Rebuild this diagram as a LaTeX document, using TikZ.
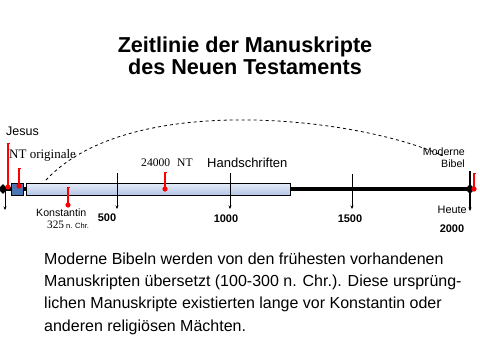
\documentclass[tikz,border=0pt]{standalone}
\usepackage{fontspec}
\setmainfont{Liberation Sans}
\newfontfamily\timesfont{Liberation Serif}
\usetikzlibrary{arrows.meta,shapes.geometric}
\definecolor{pinred}{HTML}{FF0000}
\definecolor{barlight}{HTML}{E6ECF8}
\definecolor{bardark}{HTML}{B4C5E6}
\definecolor{boxblue}{HTML}{4A76B2}

\begin{document}
\begin{tikzpicture}[
  x=1pt, y=-1pt,
  every node/.style={inner sep=0pt},
  tick/.style={draw=black, line width=0.8pt, -{Stealth[length=3.5pt,width=3pt]}},
  redpin/.style={draw=pinred, line width=1.8pt, {Bar[width=3pt,line width=0.8pt]}-},
  yearlbl/.style={font=\fontsize{11}{12}\selectfont\bfseries, anchor=base}
]
\useasboundingbox (0,0) rectangle (480,360);

% Title
\node[font=\fontsize{21.6}{23}\selectfont\bfseries, anchor=base] (title1) at (245,52) {Zeitlinie der Manuskripte};
\node[font=\fontsize{21.6}{23}\selectfont\bfseries, anchor=base] (title2) at (245,74) {des Neuen Testaments};

% Axis
\coordinate (axisL) at (0,189);
\coordinate (axisR) at (470,189);
\draw[line width=4pt] (axisL) -- (axisR);
\node[draw=black, line width=0.8pt, top color=barlight, bottom color=bardark,
      minimum width=264pt, minimum height=12pt, anchor=west] (bar) at (26,189) {};
\node[draw=black, line width=0.8pt, fill=boxblue, minimum size=12pt] (origbox) at (17,189) {};
\node[diamond, fill=black, minimum size=10pt] (startpt) at (3,189) {};
\node[diamond, fill=black, minimum size=10pt] (today) at (470,189) {};

% Ticks
\draw[tick] (5,190) -- (5,210);
\foreach \x/\t in {117/173, 230/173, 352/174} {
  \draw[tick] (\x,\t) -- (\x,209);
}
\draw[tick, line width=1.6pt] (470,171) -- (470,211);

% Years
\node[yearlbl] (y500) at (107,221) {500};
\node[yearlbl] (y1000) at (226,222) {1000};
\node[yearlbl] (y1500) at (350,222) {1500};
\node[yearlbl] (y2000) at (452,232) {2000};

% Red pins
\draw[redpin] (8,143) -- (8,187);
\fill[pinred] (8,187) circle (2.6);
\draw[redpin] (19,168) -- (19,186);
\fill[pinred] (19,186) circle (2.6);
\draw[redpin] (68,187) -- (68,205);
\fill[pinred] (68,205) circle (2.6);
\draw[redpin] (165,172) -- (165,189);
\fill[pinred] (165,189) circle (2.6);
\draw[redpin] (474,173) -- (474,189);
\fill[pinred] (474,189) circle (2.6);

% Labels
\node[font=\fontsize{12.5}{14}\selectfont, anchor=base west] (jesus) at (6,135) {Jesus};
\node[font=\timesfont\fontsize{13}{15}\selectfont, anchor=base west] (ntorig) at (9,158) {NT originale};
\node[font=\timesfont\fontsize{11.6}{13}\selectfont, anchor=base west] (nt24) at (141,166) {24000\hspace{7pt}NT};
\node[font=\fontsize{13}{15}\selectfont, anchor=base west] (hands) at (207,167) {Handschriften};
\node[font=\fontsize{10.6}{12}\selectfont, anchor=base west] (konst) at (36,216) {Konstantin};
\node[anchor=base west] (konstyr) at (47,228) {{\timesfont\fontsize{11.3}{13}\selectfont 325}\hspace{2pt}{\fontsize{7.5}{9}\selectfont n. Chr.}};
\node[font=\fontsize{10.9}{12}\selectfont, anchor=base east] (heute) at (467,213) {Heute};
\node[font=\fontsize{10.6}{12}\selectfont, align=right, anchor=base east] (bibel) at (465,167) {Moderne\\Bibel};

% Dashed arc
\coordinate (arcfrom) at (46,180);
\coordinate (arcto) at (443,156);
\draw[line width=0.8pt, dash pattern=on 3pt off 3pt, -{Stealth[length=3pt,width=2.5pt]}]
  (arcfrom) .. controls (130,90) and (360,118) .. (arcto);

% Text
\node[font=\fontsize{16}{22.3}\selectfont, align=left, anchor=north west] (note) at (44,252.5)
  {Moderne Bibeln werden von den fr\"uhesten vorhandenen\\
   Manuskripten \"ubersetzt (100-300 n. Chr.). Diese urspr\"ung-\\
   lichen Manuskripte existierten lange vor Konstantin oder\\
   anderen religi\"osen M\"achten.};

\end{tikzpicture}
\end{document}
